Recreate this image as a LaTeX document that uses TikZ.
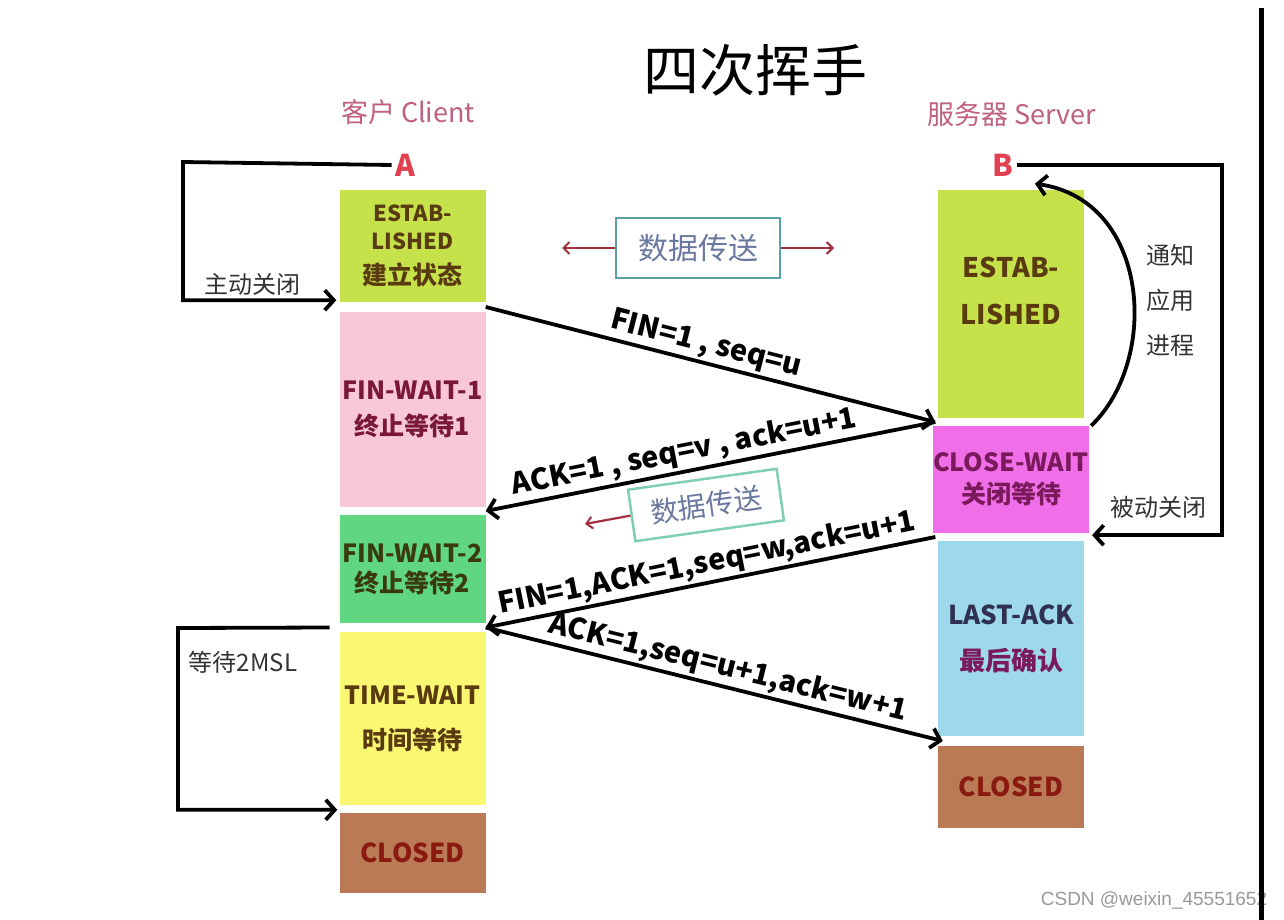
\documentclass[tikz,border=0pt]{standalone}
\usepackage{fontspec}
\setmainfont{Noto Sans CJK SC}
\newfontfamily\wmfont{Liberation Sans}
\usetikzlibrary{arrows.meta,calc}
\newcommand{\fsz}[2]{\fontsize{#1}{#2}\selectfont}
\definecolor{cLime}{HTML}{C5E24B}
\definecolor{cPink}{HTML}{F9C8D6}
\definecolor{cGreen}{HTML}{5FD67F}
\definecolor{cYellow}{HTML}{FAF873}
\definecolor{cBrown}{HTML}{B97A55}
\definecolor{cMag}{HTML}{F06EE8}
\definecolor{cBlue}{HTML}{9DD9EB}
\definecolor{tBrown}{HTML}{5A3A10}
\definecolor{tMaroon}{HTML}{7A1838}
\definecolor{tOlive}{HTML}{3A3A10}
\definecolor{tRed}{HTML}{8A1A10}
\definecolor{tPurple}{HTML}{7A1A5A}
\definecolor{tNavy}{HTML}{303050}
\definecolor{tHead}{HTML}{C06080}
\definecolor{tAB}{HTML}{E04050}
\definecolor{tGray}{HTML}{333333}
\definecolor{dTeal}{HTML}{5AA0A8}
\definecolor{dMint}{HTML}{80D0B0}
\definecolor{dText}{HTML}{6A78A0}
\definecolor{dArrow}{HTML}{A03040}
\tikzset{
  box/.style={minimum width=146, inner sep=0, align=center},
  arr/.style={line width=3.8, -{Straight Barb[length=9pt,width=20pt,line width=3.8pt]}},
  rarr/.style={line width=2.2, draw=dArrow, -{Straight Barb[length=6pt,width=12pt,line width=2pt]}},
  lab/.style={font=\bfseries\fsz{29}{32}, sloped, above, inner sep=2},
  note/.style={text=tGray, font=\fsz{24}{30}},
  dbox/.style={draw=dTeal, line width=2.5, fill=white, minimum width=164, minimum height=60, text=dText, font=\fsz{30}{34}}
}
\begin{document}
\begin{tikzpicture}[x=1pt,y=-1pt]
\useasboundingbox (0,0) rectangle (1284,920);
\fill[white] (0,0) rectangle (1284,920);

% title and headings
\node (title) at (755,70) {\fsz{56}{60}四次挥手};
\node[text=tHead] (client) at (408,112) {\fsz{27}{30}客户 Client};
\node[text=tHead] (server) at (1012,114) {\fsz{27}{30}服务器 Server};
\node[text=tAB, font=\bfseries\fsz{30}{32}] (A) at (405,165) {A};
\node[text=tAB, font=\bfseries\fsz{30}{32}] (B) at (1003,165) {B};

% client states
\node[box, fill=cLime, minimum height=112, text=tBrown, font=\bfseries\fsz{22}{28}] (le) at (412.5,246)
  {ESTAB-\\LISHED\\[7pt]{\fsz{25}{28}建立状态}};
\node[box, fill=cPink, minimum height=195, text=tMaroon, font=\bfseries\fsz{25}{36}] (lf1) at (412.5,409.5)
  {FIN-WAIT-1\\终止等待1};
\node[box, fill=cGreen, minimum height=108, text=tOlive, font=\bfseries\fsz{25}{30}] (lf2) at (412.5,569)
  {FIN-WAIT-2\\终止等待2};
\node[box, fill=cYellow, minimum height=173, text=tBrown, font=\bfseries\fsz{25}{45}] (ltw) at (412.5,718.5)
  {TIME-WAIT\\时间等待};
\node[box, fill=cBrown, minimum height=80, text=tRed, font=\bfseries\fsz{26}{30}] (lc) at (412.5,853)
  {CLOSED};

% server states
\node[box, fill=cLime, minimum height=228, text=tBrown, font=\bfseries\fsz{27}{47}] (re) at (1011,304)
  {ESTAB-\\LISHED\\[-20pt]\mbox{}};
\node[box, fill=cMag, minimum height=107, text=tPurple, font=\bfseries\fsz{25}{32}] (rcw) at (1011,479.5)
  {CLOSE-WAIT\\关闭等待};
\node[box, fill=cBlue, minimum height=195, text=tNavy, font=\bfseries\fsz{26}{46}] (rla) at (1011,638.5)
  {LAST-ACK\\\textcolor{tPurple}{最后确认}};
\node[box, fill=cBrown, minimum height=82, text=tRed, font=\bfseries\fsz{26}{30}] (rc) at (1011,787)
  {CLOSED};

% data transfer boxes
\node[dbox] (d1) at (698,248) {数据传送};
\coordinate (d1l) at (562,248);
\coordinate (d1r) at (834,248);
\draw[rarr] (d1.west) -- (d1l);
\draw[rarr] (d1.east) -- (d1r);
\node[dbox, draw=dMint, rotate=8, minimum width=150, minimum height=52, font=\fsz{28}{32}] (d2) at (706,505) {数据传送};
\coordinate (d2l) at (585,524);
\draw[rarr] (d2.west) -- (d2l);

% message arrows
\coordinate (gL1) at ($(le.south east)!0.5!(lf1.north east)$);
\coordinate (gL2) at ($(lf1.south east)!0.5!(lf2.north east)$);
\coordinate (gL3) at ($(lf2.south east)!0.5!(ltw.north east)$);
\coordinate (gR1) at ($(re.south west)!0.5!(rcw.north west)$);
\coordinate (gR2) at ($(rcw.south west)!0.5!(rla.north west)$);
\coordinate (gR3) at ($(rla.south west)!0.5!(rc.north west)+(5,0)$);
\draw[arr] (gL1) -- node[lab,pos=0.48] {FIN=1 , seq=u} (gR1);
\draw[arr] (gR1) -- node[lab,pos=0.55] {ACK=1 , seq=v , ack=u+1} (gL2);
\draw[arr] (gR2) -- node[lab,pos=0.5] {FIN=1,ACK=1,seq=w,ack=u+1} (gL3);
\draw[arr] (gL3) -- node[lab,pos=0.52] {ACK=1,seq=u+1,ack=w+1} (gR3);

% active close loop
\coordinate (lA) at (183,162);
\draw[arr] (A.west) -- (lA) |- ($(le.south west)+(-3,-2)$);
\node[note] (n1) at (252,284) {主动关闭};

% 2MSL loop
\coordinate (m1) at (178,628);
\draw[arr] ($(gL3)-(156,0)$) -- (m1) |- ($(lc.north west)+(-2,-3)$);
\node[note] (n2) at (243,662) {等待2MSL};

% passive close loop
\coordinate (rB) at (1222,165);
\draw[arr] (B.east) -- (rB) |- ($(rcw.south east)+(3,2)$);
\node[note] (n3) at (1158,507) {被动关闭};

% notify application
\draw[arr] ($(rcw.north east)+(2,0)$) .. controls (1160,360) and (1150,200) .. ($(B.south east)+(18,4)$);
\node[note, align=center, font=\fsz{24}{45}] (n4) at (1170,300) {通知\\应用\\进程};

% watermark and right rule
\node[text=gray!80, font=\wmfont\fsz{19}{22}] (wm) at (1154,900) {CSDN @weixin\_45551652};
\draw[line width=5] (1261,8) -- (1261,920);
\end{tikzpicture}
\end{document}
